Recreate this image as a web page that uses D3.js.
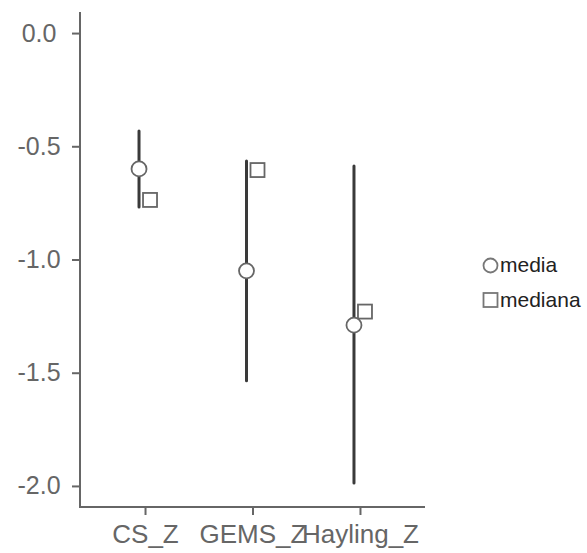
<!DOCTYPE html>
<html><head><meta charset="utf-8">
<script src="https://cdn.jsdelivr.net/npm/d3@7"></script>
<style>body{margin:0;background:#fff}</style>
</head><body>
<svg id="c" width="587" height="553"></svg>
<script>
const categories = ["CS_Z", "GEMS_Z", "Hayling_Z"];
const mediaValues = [-0.60, -1.05, -1.29];
const medianaValues = [-0.737, -0.605, -1.23];
const lowerValues = [-0.768, -1.536, -1.987];
const upperValues = [-0.433, -0.565, -0.587];
const yTicks = [0.0, -0.5, -1.0, -1.5, -2.0];
const legendLabels = ["media", "mediana"];

const svg = d3.select("#c");
const x = d3.scalePoint().domain(categories).range([80, 425]).padding(0.605);
const y = d3.scaleLinear().domain([-2.093, 0.093]).range([507, 12]);
const axisColor = "#666";
const font = "'Liberation Sans', Arial, sans-serif";

svg.append("line").attr("x1", 80).attr("x2", 80).attr("y1", 12).attr("y2", 508)
  .attr("stroke", axisColor).attr("stroke-width", 2);
svg.append("line").attr("x1", 79).attr("x2", 425).attr("y1", 507).attr("y2", 507)
  .attr("stroke", axisColor).attr("stroke-width", 2);

const ya = svg.append("g").attr("transform", "translate(80,0)")
  .call(d3.axisLeft(y).tickValues(yTicks).tickFormat(d3.format(".1f")).tickSize(8).tickPadding(0));
ya.select(".domain").remove();
ya.selectAll(".tick line").attr("stroke", axisColor).attr("stroke-width", 2);
ya.selectAll(".tick text").attr("x", -41).attr("text-anchor", "middle")
  .attr("font-family", font).attr("font-size", 25).attr("fill", "#666")
  .text(d => d3.format(".1f")(d).replace("−", "-"));

const xa = svg.append("g").attr("transform", "translate(0,507)")
  .call(d3.axisBottom(x).tickSize(8).tickPadding(10));
xa.select(".domain").remove();
xa.selectAll(".tick line").attr("stroke", axisColor).attr("stroke-width", 2);
xa.selectAll(".tick text").attr("font-family", font).attr("font-size", 26).attr("fill", "#666")
  .attr("dy", "0.71em");

const data = categories.map((c, i) => ({c, m: mediaValues[i], md: medianaValues[i], lo: lowerValues[i], hi: upperValues[i]}));
const dxMean = -6, dxMed = 5;

svg.append("g").selectAll("line").data(data).join("line")
  .attr("x1", d => x(d.c) + dxMean).attr("x2", d => x(d.c) + dxMean)
  .attr("y1", d => y(d.hi)).attr("y2", d => y(d.lo))
  .attr("stroke", "#3a3a3a").attr("stroke-width", 3).attr("stroke-linecap", "round");

svg.append("g").selectAll("rect").data(data).join("rect")
  .attr("x", d => x(d.c) + dxMed - 7).attr("y", d => y(d.md) - 7)
  .attr("width", 14).attr("height", 14)
  .attr("fill", "#fff").attr("stroke", "#666").attr("stroke-width", 1.8);

svg.append("g").selectAll("circle").data(data).join("circle")
  .attr("cx", d => x(d.c) + dxMean).attr("cy", d => y(d.m)).attr("r", 7.5)
  .attr("fill", "#fff").attr("stroke", "#666").attr("stroke-width", 1.8);

const lg = svg.append("g");
lg.append("circle").attr("cx", 490.5).attr("cy", 265.5).attr("r", 7)
  .attr("fill", "#fff").attr("stroke", "#777").attr("stroke-width", 1.8);
lg.append("rect").attr("x", 483.5).attr("y", 293).attr("width", 14).attr("height", 14)
  .attr("fill", "#fff").attr("stroke", "#777").attr("stroke-width", 1.8);
lg.selectAll("text").data(legendLabels).join("text")
  .attr("x", 500).attr("y", (d, i) => 272 + i * 35)
  .attr("font-family", font).attr("font-size", 21).attr("fill", "#222")
  .text(d => d);
</script>
</body></html>
